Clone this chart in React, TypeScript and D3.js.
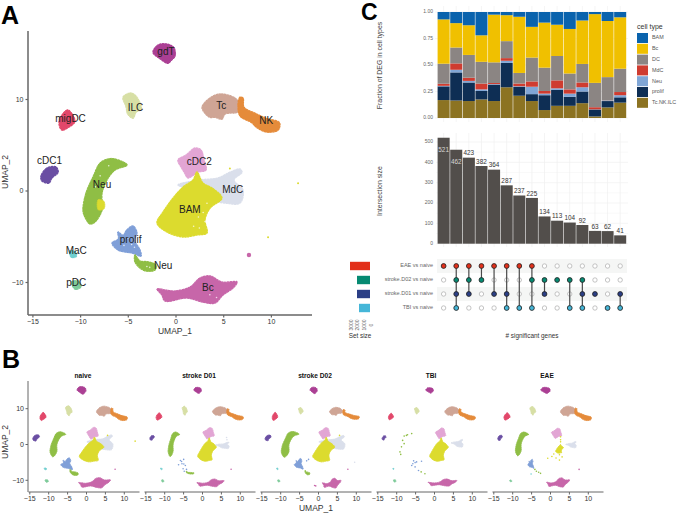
import { useEffect, useRef } from "react";
import * as d3 from "d3";

type Pt = [number, number];
// sx, sy, dx, dy applied to a cluster outline for one condition
type Fit = [number, number, number?, number?];

const FONT = "Liberation Sans, Arial, sans-serif";

// UMAP outlines
const gdT: Pt[] = [[-2.36, 15.1], [-1.83, 15.9], [-0.89, 16.0], [-0.16, 15.6], [-0.05, 14.7], [-0.47, 14.2], [-0.79, 13.9], [-1.62, 14.4]];
const ILC: Pt[] = [[-5.5, 10.2], [-4.67, 10.65], [-4.05, 10.2], [-3.6, 8.9], [-4.14, 8.55], [-4.45, 7.9], [-5, 8.35], [-5.2, 9.2]];
const migDC: Pt[] = [[-12.1, 7.9], [-11.3, 8.8], [-10.65, 8], [-10.55, 7.5], [-11.3, 6.85], [-11.9, 6.6], [-12.2, 7.2]];
const Tc: Pt[] = [[2.78, 9.1], [3.6, 10.1], [4.66, 10.55], [6.24, 10.1], [6.76, 9.35], [6.55, 8.6], [5.19, 8.35], [4.87, 7.8], [4.14, 8.0], [3.6, 8.0], [3.09, 8.45]];
const NK: Pt[] = [[6.55, 9.35], [6.76, 10.2], [7.08, 10.1], [7.18, 9.1], [8.33, 8.45], [9.49, 7.9], [10.9, 7.4], [10.75, 6.6], [9.5, 6.4], [8.5, 6.9], [8.0, 7.4], [6.76, 8.15]];
const cDC2: Pt[] = [[0.26, 3.33], [1.1, 3.88], [2.04, 4.64], [2.67, 4.43], [2.99, 3.33], [3.2, 2.24], [2.36, 2.0], [1.73, 1.58], [1.31, 1.37], [0.89, 2.03], [0.58, 2.57]];
const MdC: Pt[] = [[0.26, 0.6], [2.57, 1.15], [4.45, 1.37], [5.71, 2.0], [6.76, 2.35], [6.97, 2.0], [6.13, 1.15], [7.08, 0.05], [6.76, -1.37], [5.19, -1.37], [3.62, -1.04], [2.04, 0.05]];
const BAM: Pt[] = [[2.88, 0.82], [3.83, 0.27], [4.87, -0.82], [3.62, -1.93], [3.09, -3.22], [3.3, -4.64], [2.25, -4.86], [0.79, -5.08], [-0.89, -4.54], [-1.94, -3.55], [-1.31, -2.35], [-0.26, -0.82], [0.79, 0.38], [1.83, 1.15], [2.25, 2.02]];
const Neu: Pt[] = [[-9.7, -2.13], [-9.38, -0.27], [-8.65, 1.48], [-7.91, 3.0], [-7.08, 3.44], [-6.34, 3.44], [-5.08, 2.79], [-6.34, 2.24], [-7.18, 1.15], [-7.7, -0.27], [-7.7, -2.13], [-8.44, -3.44], [-8.96, -3.66], [-9.49, -2.9]];
const cDC1: Pt[] = [[-14.1, 1.58], [-13.47, 2.46], [-12.53, 2.57], [-12.3, 2.0], [-12.95, 1.37], [-13.26, 0.82], [-14, 1.04]];
const prolif: Pt[] = [[-6.03, -4.54], [-5.5, -4.9], [-5.1, -4.3], [-4.45, -3.88], [-4.04, -4.64], [-4.3, -5.4], [-3.72, -6.5], [-3.62, -7.16], [-4.56, -6.83], [-5.29, -6.72], [-6.03, -6.5], [-6.66, -5.74], [-6.0, -5.3]];
const Neu2: Pt[] = [[-4.25, -7.05], [-3.72, -7.7], [-2.88, -7.8], [-2.04, -8.14], [-2.15, -8.69], [-3.09, -8.8], [-3.72, -8.47], [-4.25, -7.8]];
const Bc: Pt[] = [[-1.94, -10.76], [-0.9, -10.9], [-0.05, -10.98], [1.52, -10.55], [2.57, -9.56], [3.62, -9.34], [4.87, -10], [6.45, -10], [6.03, -10.66], [4.98, -11.42], [4.14, -12.3], [2.88, -12.2], [1.2, -11.75], [-1.1, -12.08], [-1.42, -11.42]];
const MaC: Pt[] = [[-11.1, -6.6], [-10.5, -6.7], [-10.4, -7.2], [-10.9, -7.3]];
const pDC: Pt[] = [[-10.9, -10.0], [-10.2, -9.9], [-9.9, -10.5], [-10.5, -10.8]];
const NeuPatch: Pt[] = [[-8.1, -1.0], [-7.5, -1.2], [-7.5, -2.0], [-8.1, -2.1]];

const clusterKeys = ["gdT", "ILC", "migDC", "Tc", "NK", "MdC", "cDC2", "BAM", "Neu", "cDC1", "prolif", "Neu2", "Bc", "MaC", "pDC"];
const clusterShapes: Pt[][] = [gdT, ILC, migDC, Tc, NK, MdC, cDC2, BAM, Neu, cDC1, prolif, Neu2, Bc, MaC, pDC];
const clusterColors = ["#ab3f94", "#d7dfa5", "#e2476a", "#cfa595", "#e58b3a", "#dadfeb", "#e2a5d4", "#dcdb2e", "#8fbe45", "#6a4ea3", "#7f9fd8", "#8fbe45", "#c766a9", "#6fcfd0", "#7ecb9a"];

const labelNames = ["gdT", "ILC", "Tc", "NK", "migDC", "cDC1", "cDC2", "Neu", "MdC", "BAM", "prolif", "MaC", "Neu", "pDC", "Bc"];
const labelPos: Pt[] = [[-1, 15.1], [-4.2, 9.0], [4.8, 9.2], [9.5, 7.6], [-11, 7.8], [-13.2, 3.2], [2.5, 3.1], [-7.7, 0.6], [6.0, 0.05], [1.5, -2.2], [-4.7, -5.5], [-10.4, -6.7], [-1.3, -8.3], [-10.4, -10.1], [3.4, -10.7]];

// small stray groups: [cluster colour index, x, y]
const strayPoints: [number, number, number][] = [[12, 7.7, -7.05], [7, 9.7, -5.1], [7, 12.85, 0.8], [7, 5.7, 2.4]];
// gaps in the dense clouds of panel A
const gapPoints: Pt[] = [[3.1, -3.4], [2.4, -2.9], [2.9, -2.4], [1.9, -3.9], [2.5, -4.1], [3.3, -1.4], [-7.0, 2.7], [-7.9, 1.6], [-8.4, 0.4], [-5.0, -5.2], [-4.6, -5.9], [-4.3, -6.2], [-5.4, -6.0], [-3.0, -8.3], [-2.7, -8.4], [3.6, -11.4], [4.3, -11.7]];

const conditions = ["naive", "stroke D01", "stroke D02", "TBI", "EAE"];
// one fit per cluster in clusterKeys order, 0 = drawn only as single cells
const fitNaive: Fit[] = [[1, 1], [0.9, 1], [0.95, 1], [1, 1], [1, 0.9], [1, 1.1], [1, 1], [0.95, 0.97], [0.9, 0.97], [0.95, 0.95], [1, 1], [0.95, 0.95], [1, 0.95], [0.8, 0.6], [0.85, 0.75]];
const fitD01: Fit[] = [[0.85, 0.8], [0.7, 0.9], [0.9, 0.9], [1, 0.9], [1, 0.8], [0.55, 0.45, 1.1, -0.9], [1, 0.95], [0.72, 0.92, -0.2, 0], [0.65, 0.95, 0.1, 0], [0.65, 0.7], [0, 0], [0.9, 0.4], [0.85, 0.7], [0.6, 0.5], [0.6, 0.65]];
const fitD02: Fit[] = [[0.8, 0.85], [0.65, 0.65], [0.85, 1], [0.85, 0.8], [1, 0.7], [1, 1], [1, 0.95], [0.85, 0.97], [1, 1], [0.85, 0.85], [0.75, 0.9], [0.55, 0.7, 0.4, 0], [0.58, 0.9, 1.4, -0.1], [0.6, 0.4], [0.6, 0.6]];
const fitTBI: Fit[] = [[0.85, 0.7], [0.65, 0.65], [0.8, 0.8], [0.95, 0.9], [1, 0.8], [0.45, 0.55, 1.8, -0.3], [0.9, 0.9], [0.72, 0.92, -0.2, 0], [0, 0], [0.55, 0.65], [0, 0], [0, 0], [0.9, 0.65, 0, 0.1], [0.4, 0.35], [0.65, 0.65]];
const fitEAE: Fit[] = [[1.05, 0.8], [0.8, 0.85], [0.95, 0.9], [1, 1], [1, 0.9], [0.4, 0.45, 1.2, -0.7], [0.9, 0.85], [0.3, 0.35, 0.9, 0.4], [0.75, 0.92, 0.1, 0.1], [0.65, 0.8], [0.5, 0.75, 0, 0], [0, 0], [0.72, 0.85, -0.1, 0.1], [0, 0], [0.55, 0.5]];
const conditionFits = [fitNaive, fitD01, fitD02, fitTBI, fitEAE];

const cellsNaive: [number, number, number][] = [[12, 7.7, -7.05], [7, 13, 0.8], [7, 5.7, 2.4]];
const cellsD01: [number, number, number][] = [[12, 7.7, -7.05], [5, 6.5, 1.8], [5, 6.6, 1.2], [10, -5.7, -4.6], [10, -4.85, -4.3], [10, -6.2, -5.8], [10, -5.3, -5.5], [10, -4.4, -6], [10, -5, -6.9], [10, -4.1, -7.1], [10, -4.7, -7.6], [10, -5.4, -4.9], [10, -4.8, -5.6]];
const cellsD02: [number, number, number][] = [[12, 7.9, -7.05], [12, -0.9, -11.6], [12, -0.6, -11.7], [7, 5.7, 2.4], [5, 9.7, -5.1], [10, -3, -4.7], [10, -2.5, -4.3]];
const cellsTBI: [number, number, number][] = [[8, -5.9, 2.9], [8, -7, 2.6], [8, -7.9, 2.2], [8, -8.3, 1], [8, -7.9, 0.1], [8, -8.6, -0.8], [8, -9, -2.2], [8, -8.8, -2.9], [8, -7.3, 2.4], [10, -5.6, -5.5], [10, -5, -5.2], [10, -5.9, -6], [10, -4.6, -5], [10, -3.3, -4.8], [10, -5, -6.4], [10, -4.1, -7.4], [8, -2.4, -8.3], [8, -3.4, -7.8], [10, -5.4, -4.7]];
const cellsEAE: [number, number, number][] = [[12, 7.7, -7.1], [8, -4, -7.1], [8, -3.6, -7.6], [8, -3, -7.9], [8, -2.5, -8.2], [13, -5, -8.4], [7, 2.8, 2.0], [7, 2.8, 1.2], [7, 2.8, 0.6], [7, 0.5, -3.5], [7, -0.6, -4.0], [7, 1.0, -2.8], [7, 2.5, -4.5], [7, 3.2, -3.6], [7, 2.5, -3.0], [7, 1.6, -3.9]];
const conditionCells = [cellsNaive, cellsD01, cellsD02, cellsTBI, cellsEAE];

// stacked fractions per intersection
const cellTypes = ["BAM", "Bc", "DC", "MdC", "Neu", "prolif", "Tc.NK.ILC"];
const typeColors = ["#0a63ad", "#f0c000", "#8b8583", "#cf3c30", "#80a6d6", "#0e2e54", "#8c7322"];
const fracTc = [0.17, 0.165, 0.16, 0.175, 0.16, 0.29, 0.21, 0.16, 0.075, 0.115, 0.115, 0.14, 0.015, 0.1, 0.145];
const fracProlif = [0.13, 0.265, 0.175, 0.08, 0.155, 0.23, 0.085, 0.065, 0.14, 0.15, 0.085, 0.11, 0.065, 0.06, 0.05];
const fracNeu = [0.005, 0.025, 0.015, 0.015, 0.005, 0.02, 0.005, 0.07, 0.015, 0.015, 0.03, 0.04, 0.002, 0.005, 0.02];
const fracMdC = [0.02, 0.06, 0.03, 0.055, 0.01, 0.025, 0.025, 0.05, 0.025, 0.075, 0.04, 0.045, 0.02, 0.001, 0.03];
const fracDC = [0.19, 0.15, 0.215, 0.205, 0.195, 0.16, 0.1, 0.225, 0.22, 0.23, 0.15, 0.175, 0.23, 0.22, 0.22];
const fracBc = [0.42, 0.23, 0.28, 0.25, 0.45, 0.245, 0.53, 0.29, 0.425, 0.295, 0.42, 0.41, 0.65, 0.53, 0.485];
const fracBAM = [0.07, 0.105, 0.125, 0.22, 0.025, 0.03, 0.045, 0.14, 0.1, 0.12, 0.16, 0.08, 0.02, 0.085, 0.05];

const intersectionSize = [521, 462, 423, 382, 364, 287, 237, 225, 134, 113, 104, 92, 63, 62, 41];

const setNames = ["EAE vs naive", "stroke.D02 vs naive", "stroke.D01 vs naive", "TBI vs naive"];
const setColors = ["#e2301a", "#068a72", "#2b3f86", "#45b6d8"];
const setSizes = [3000, 1950, 1950, 1650];
// rows of setNames present in each intersection
const memberships = [[0], [0, 1, 2, 3], [0, 1, 2], [0, 1], [0, 2], [0, 2, 3], [0, 3], [0, 1, 3], [1, 2], [1], [1, 3], [1, 2, 3], [2], [3], [2, 3]];

type Sel = d3.Selection<any, unknown, null, undefined>;

function txt(g: Sel, x: number, y: number, s: string, size: number, fill = "#222", anchor = "middle", weight = "normal") {
  return g.append("text").attr("x", x).attr("y", y).attr("font-size", size).attr("fill", fill)
    .attr("text-anchor", anchor).attr("font-weight", weight).attr("font-family", FONT)
    .attr("dominant-baseline", "middle").text(s);
}

function styleAxis(a: Sel, size: number, width: number) {
  a.selectAll("path,line").attr("stroke", "#666").attr("stroke-width", width);
  a.selectAll("text").attr("font-size", size).attr("font-family", FONT).attr("fill", "#333");
}

function drawCluster(g: Sel, x: d3.ScaleLinear<number, number>, y: d3.ScaleLinear<number, number>, pts: Pt[], fit: Fit, color: string, rough: number) {
  if (!fit[0]) return;
  const cx = d3.mean(pts, d => d[0]) as number;
  const cy = d3.mean(pts, d => d[1]) as number;
  const moved = pts.map(([a, b]): Pt => [cx + (a - cx) * fit[0] + (fit[2] ?? 0), cy + (b - cy) * fit[1] + (fit[3] ?? 0)]);
  const line = d3.line<Pt>().x(d => x(d[0])).y(d => y(d[1])).curve(d3.curveCatmullRomClosed.alpha(0.5));
  // dotted round stroke gives the outline the bumpy edge of a point cloud
  g.append("path").attr("d", line(moved) ?? "").attr("fill", color)
    .attr("stroke", color).attr("stroke-width", rough)
    .attr("stroke-linecap", "round").attr("stroke-dasharray", `0.1 ${rough * 1.05} 0.1 ${rough * 0.7}`);
}

function drawPanelA(svg: Sel) {
  const g = svg.append("g");
  const x = d3.scaleLinear().domain([0, 10]).range([175.5, 270.9]);
  const y = d3.scaleLinear().domain([0, 10]).range([190.5, 99]);
  clusterShapes.forEach((s, i) => drawCluster(g, x, y, s, [1, 1], clusterColors[i], 1.5));
  drawCluster(g, x, y, NeuPatch, [1, 1], clusterColors[7], 1);
  gapPoints.forEach(([a, b]) => {
    g.append("circle").attr("cx", x(a)).attr("cy", y(b)).attr("r", 0.8).attr("fill", "#fff").attr("opacity", 0.75);
  });
  strayPoints.forEach(([c, a, b]) => {
    g.append("circle").attr("cx", x(a)).attr("cy", y(b)).attr("r", c === 12 ? 2.2 : 1).attr("fill", clusterColors[c]);
  });
  const xa = g.append("g").attr("transform", "translate(0,315)")
    .call(d3.axisBottom(x).tickValues([-15, -10, -5, 0, 5, 10]).tickSize(2.5).tickPadding(2).tickSizeOuter(0));
  xa.select(".domain").attr("d", "M28,0H312");
  styleAxis(xa, 7, 1.2);
  xa.select(".domain").attr("stroke-width", 1.5);
  const ya = g.append("g").attr("transform", "translate(28,0)")
    .call(d3.axisLeft(y).tickValues([-10, 0, 10]).tickSize(2.5).tickPadding(2).tickSizeOuter(0));
  ya.select(".domain").attr("d", "M0,31V315");
  styleAxis(ya, 7, 1.2);
  ya.select(".domain").attr("stroke-width", 1.5);
  txt(g, 175, 332, "UMAP_1", 8.5, "#333");
  txt(g, 0, 0, "UMAP_2", 8.5, "#333").attr("transform", "translate(6,172) rotate(-90)");
  labelNames.forEach((n, i) => txt(g, x(labelPos[i][0]), y(labelPos[i][1]), n, 10, "#222"));
}

function drawPanelB(svg: Sel) {
  const g = svg.append("g");
  const y = d3.scaleLinear().domain([0, 10]).range([444, 408.2]);
  const originScale = d3.scalePoint<string>().domain(conditions).range([86, 550]);
  conditions.forEach((c, k) => {
    const x0 = originScale(c) as number;
    const x = d3.scaleLinear().domain([0, 10]).range([x0, x0 + 37.8]);
    const fits = conditionFits[k];
    clusterShapes.forEach((s, i) => drawCluster(g, x, y, s, fits[i], clusterColors[i], 1));
    conditionCells[k].forEach(([ci, a, b]) => {
      g.append("circle").attr("cx", x(a)).attr("cy", y(b)).attr("r", 0.8).attr("fill", clusterColors[ci]);
    });
    const xa = g.append("g").attr("transform", "translate(0,492)")
      .call(d3.axisBottom(x).tickValues([-15, -10, -5, 0, 5, 10]).tickSize(2.5).tickPadding(1.5).tickSizeOuter(0));
    xa.select(".domain").attr("d", `M${x0 - 57.5},0H${x0 + 53.5}`);
    styleAxis(xa, 7, 1);
    txt(g, x0 - 3, 376, c, 6.6, "#111", "middle", "bold");
  });
  const ya = g.append("g").attr("transform", "translate(28,0)")
    .call(d3.axisLeft(y).tickValues([-10, 0, 10]).tickSize(2.5).tickPadding(1.5).tickSizeOuter(0));
  ya.select(".domain").attr("d", "M0,381V492");
  styleAxis(ya, 7, 1);
  txt(g, 316, 509, "UMAP_1", 8.5, "#333");
  txt(g, 0, 0, "UMAP_2", 8.5, "#333").attr("transform", "translate(6,442) rotate(-90)");
}

function drawPanelC(svg: Sel) {
  const g = svg.append("g");
  const ids = intersectionSize.map((_, i) => String(i));
  const x = d3.scaleBand().domain(ids).range([437.6, 626.2]).paddingInner(0.045);
  const mid = (id: string) => (x(id) as number) + x.bandwidth() / 2;

  // fractions
  const yF = d3.scaleLinear().domain([0, 1]).range([118, 12]);
  ids.forEach(id => g.append("line").attr("x1", mid(id)).attr("x2", mid(id)).attr("y1", 6).attr("y2", 122).attr("stroke", "#f1f1f1").attr("stroke-width", 0.7));
  [0, 0.25, 0.5, 0.75, 1].forEach(t => {
    g.append("line").attr("x1", 435).attr("x2", 628).attr("y1", yF(t)).attr("y2", yF(t)).attr("stroke", "#f1f1f1").attr("stroke-width", 0.7);
    txt(g, 433, yF(t), d3.format(".2f")(t), 5, "#666", "end");
  });
  const rows = ids.map((_, i) => ({
    "BAM": fracBAM[i], "Bc": fracBc[i], "DC": fracDC[i], "MdC": fracMdC[i],
    "Neu": fracNeu[i], "prolif": fracProlif[i], "Tc.NK.ILC": fracTc[i],
  })) as Record<string, number>[];
  const stacked = d3.stack<Record<string, number>>().keys([...cellTypes].reverse()).offset(d3.stackOffsetExpand)(rows);
  stacked.forEach(layer => {
    const color = typeColors[cellTypes.indexOf(layer.key)];
    g.append("g").attr("fill", color).selectAll("rect").data(layer).join("rect")
      .attr("x", (_, i) => x(ids[i]) as number).attr("width", x.bandwidth())
      .attr("y", d => yF(d[1])).attr("height", d => yF(d[0]) - yF(d[1]));
  });
  txt(g, 0, 0, "Fraction of DEG in cell types", 6.9, "#444").attr("transform", "translate(380,65.5) rotate(-90)");
  txt(g, 637, 27, "cell type", 7, "#333", "start");
  cellTypes.forEach((t, i) => {
    g.append("rect").attr("x", 637).attr("y", 33 + i * 10.8).attr("width", 11).attr("height", 10).attr("fill", typeColors[i]);
    txt(g, 652, 38 + i * 10.8, t, 5.4, "#555", "start");
  });

  // intersection sizes
  const yS = d3.scaleLinear().domain([0, 500]).range([243.7, 142]);
  ids.forEach(id => g.append("line").attr("x1", mid(id)).attr("x2", mid(id)).attr("y1", 133).attr("y2", 247).attr("stroke", "#efefef").attr("stroke-width", 0.7));
  d3.range(0, 501, 50).forEach(t => {
    g.append("line").attr("x1", 436).attr("x2", 628).attr("y1", yS(t)).attr("y2", yS(t))
      .attr("stroke", "#f1f1f1").attr("stroke-width", t % 100 ? 0.4 : 0.7);
  });
  [0, 100, 200, 300, 400, 500].forEach(t => txt(g, 433, yS(t), String(t), 5, "#666", "end"));
  g.append("g").attr("fill", "#524e4b").selectAll("rect").data(intersectionSize).join("rect")
    .attr("x", (_, i) => x(ids[i]) as number).attr("width", x.bandwidth())
    .attr("y", d => yS(d)).attr("height", d => yS(0) - yS(d));
  intersectionSize.forEach((v, i) => {
    const inside = i < 2;
    txt(g, mid(ids[i]), inside ? yS(v) + 13 : yS(v) - 4, String(v), 6.4, inside ? "#d8d6d4" : "#333");
  });
  txt(g, 0, 0, "Intersection size", 6.9, "#444").attr("transform", "translate(380,191) rotate(-90)");

  // matrix
  const yM = d3.scalePoint<string>().domain(setNames).range([266, 308]);
  const xSet = d3.scaleLinear().domain([0, 3000]).range([370, 350]);
  setNames.forEach((n, r) => {
    const cy = yM(n) as number;
    if (r % 2 === 0) g.append("rect").attr("x", 437).attr("y", cy - 7).attr("width", 190).attr("height", 14).attr("fill", "#f5f6f5");
    txt(g, 433, cy, n, 5.5, "#666", "end");
    g.append("rect").attr("x", xSet(setSizes[r])).attr("y", cy - 4.2).attr("width", xSet(0) - xSet(setSizes[r])).attr("height", 8.4).attr("fill", setColors[r]);
  });
  ids.forEach(id => setNames.forEach(n => {
    g.append("circle").attr("cx", mid(id)).attr("cy", yM(n) as number).attr("r", 2.2)
      .attr("fill", "#fff").attr("stroke", "#aaa").attr("stroke-width", 0.7);
  }));
  memberships.forEach((m, i) => {
    if (m.length > 1) {
      g.append("line").attr("x1", mid(ids[i])).attr("x2", mid(ids[i]))
        .attr("y1", yM(setNames[m[0]]) as number).attr("y2", yM(setNames[m[m.length - 1]]) as number)
        .attr("stroke", "#4a4a4a").attr("stroke-width", 1.2);
    }
    m.forEach(r => {
      g.append("circle").attr("cx", mid(ids[i])).attr("cy", yM(setNames[r]) as number).attr("r", 2.4)
        .attr("fill", setColors[r]).attr("stroke", "#222").attr("stroke-width", 0.8);
    });
  });
  [3000, 2000, 1000, 0].forEach(t => {
    txt(g, 0, 0, String(t), 5, "#666").attr("transform", `translate(${xSet(t) + 1.5},325) rotate(-90)`);
  });
  txt(g, 360, 336, "Set size", 6.4, "#333");
  txt(g, 532, 336, "# significant genes", 6.4, "#333");
}

export default function App() {
  const svgRef = useRef<SVGSVGElement>(null);

  useEffect(() => {
    if (!svgRef.current) return;
    const svg = d3.select(svgRef.current) as unknown as Sel;
    svg.selectAll("*").remove();
    drawPanelA(svg);
    drawPanelB(svg);
    drawPanelC(svg);
    txt(svg, 1, 17, "A", 25, "#000", "start", "bold");
    txt(svg, 2, 361, "B", 25, "#000", "start", "bold");
    txt(svg, 361, 14, "C", 23, "#000", "start", "bold");
  }, []);

  return (
    <svg
      ref={svgRef}
      width={677}
      height={514}
      style={{ display: "block", position: "absolute", left: 0, top: 0, background: "#fff" }}
    />
  );
}
